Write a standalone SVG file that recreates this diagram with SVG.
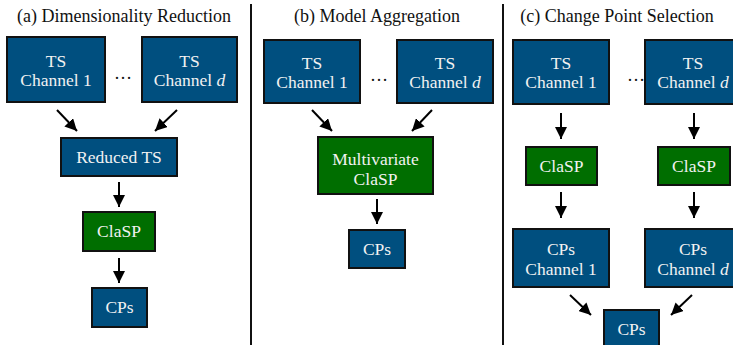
<svg xmlns="http://www.w3.org/2000/svg" width="733" height="345" viewBox="0 0 733 345" font-family="Liberation Serif, Tinos, DejaVu Serif, serif">
<style>
text{font-family:'Liberation Serif','Tinos','DejaVu Serif',serif}
.title{font-size:18px;fill:#111;text-anchor:middle}
.lbl{font-size:17.5px;fill:#f2f2f2;text-anchor:middle}
.dots{font-size:18px;fill:#111;text-anchor:middle}
.blue{fill:#004f7f;stroke:#111;stroke-width:2}
.green{fill:#006e00;stroke:#111;stroke-width:2}
.arr{stroke:#000;stroke-width:2;fill:none;marker-end:url(#ah)}
.div{stroke:#111;stroke-width:2}
</style>
<defs>
<marker id="ah" markerUnits="userSpaceOnUse" markerWidth="12" markerHeight="12" viewBox="0 0 10 10" refX="10" refY="5" orient="auto">
<path d="M0,0 L10,5 L0,10 z" fill="#000"/>
</marker>
</defs>
<rect width="733" height="345" fill="#fff"/>
<g id="dividers">
<line class="div" x1="251" y1="4" x2="251" y2="345"/>
<line class="div" x1="503" y1="4" x2="503" y2="345"/>
</g>
<g id="titles">
<text class="title" x="124" y="22">(a) Dimensionality Reduction</text>
<text class="title" x="377" y="22">(b) Model Aggregation</text>
<text class="title" x="617" y="22">(c) Change Point Selection</text>
</g>
<g id="connectors">
<line class="arr" x1="57" y1="110" x2="77" y2="131"/>
<line class="arr" x1="177" y1="110" x2="155" y2="131"/>
<line class="arr" x1="119" y1="182" x2="119" y2="207"/>
<line class="arr" x1="119" y1="258" x2="119" y2="283"/>
<line class="arr" x1="312" y1="110" x2="332" y2="131"/>
<line class="arr" x1="432" y1="110" x2="412" y2="131"/>
<line class="arr" x1="377" y1="199" x2="377" y2="224"/>
<line class="arr" x1="561" y1="113" x2="561" y2="139"/>
<line class="arr" x1="694" y1="113" x2="694" y2="139"/>
<line class="arr" x1="561" y1="192" x2="561" y2="218"/>
<line class="arr" x1="694" y1="192" x2="694" y2="218"/>
<line class="arr" x1="570" y1="295" x2="591" y2="315"/>
<line class="arr" x1="692" y1="295" x2="671" y2="315"/>
</g>
<g id="a-ts1"><rect class="blue" x="7" y="37" width="98" height="65"/><text class="lbl" x="56" y="67">TS</text><text class="lbl" x="56" y="86">Channel 1</text></g>
<text class="dots" x="123" y="79">…</text>
<g id="a-tsd"><rect class="blue" x="142" y="37" width="95" height="65"/><text class="lbl" x="189.5" y="67">TS</text><text class="lbl" x="189.5" y="86">Channel <tspan font-style="italic">d</tspan></text></g>
<g id="a-reduced"><rect class="blue" x="61" y="138" width="116" height="38"/><text class="lbl" x="119" y="163">Reduced TS</text></g>
<g id="a-clasp"><rect class="green" x="83" y="212" width="72" height="39"/><text class="lbl" x="119" y="237">ClaSP</text></g>
<g id="a-cps"><rect class="blue" x="92" y="288" width="55" height="39"/><text class="lbl" x="119.5" y="313">CPs</text></g>

<g id="b-ts1"><rect class="blue" x="264" y="40" width="96" height="63"/><text class="lbl" x="312" y="69">TS</text><text class="lbl" x="312" y="88">Channel 1</text></g>
<text class="dots" x="379" y="81">…</text>
<g id="b-tsd"><rect class="blue" x="397" y="40" width="96" height="63"/><text class="lbl" x="445" y="69">TS</text><text class="lbl" x="445" y="88">Channel <tspan font-style="italic">d</tspan></text></g>
<g id="b-mclasp"><rect class="green" x="318" y="137" width="115" height="57"/><text class="lbl" x="375.5" y="165">Multivariate</text><text class="lbl" x="375.5" y="185">ClaSP</text></g>
<g id="b-cps"><rect class="blue" x="349" y="230" width="56" height="38"/><text class="lbl" x="377" y="255">CPs</text></g>

<g id="c-ts1"><rect class="blue" x="513" y="40" width="96" height="64"/><text class="lbl" x="561" y="69">TS</text><text class="lbl" x="561" y="88">Channel 1</text></g>
<text class="dots" x="636" y="81">…</text>
<g id="c-tsd"><rect class="blue" x="645" y="40" width="96" height="64"/><text class="lbl" x="693" y="69">TS</text><text class="lbl" x="693" y="88">Channel <tspan font-style="italic">d</tspan></text></g>
<g id="c-clasp1"><rect class="green" x="526" y="147" width="71" height="38"/><text class="lbl" x="561.5" y="172">ClaSP</text></g>
<g id="c-claspd"><rect class="green" x="658" y="147" width="72" height="38"/><text class="lbl" x="694" y="172">ClaSP</text></g>
<g id="c-cps1"><rect class="blue" x="513" y="229" width="96" height="58"/><text class="lbl" x="561" y="255">CPs</text><text class="lbl" x="561" y="275">Channel 1</text></g>
<g id="c-cpsd"><rect class="blue" x="645" y="229" width="96" height="58"/><text class="lbl" x="693" y="255">CPs</text><text class="lbl" x="693" y="275">Channel <tspan font-style="italic">d</tspan></text></g>
<g id="c-cps"><rect class="blue" x="604" y="310" width="55" height="40"/><text class="lbl" x="631.5" y="335">CPs</text></g>
</svg>
